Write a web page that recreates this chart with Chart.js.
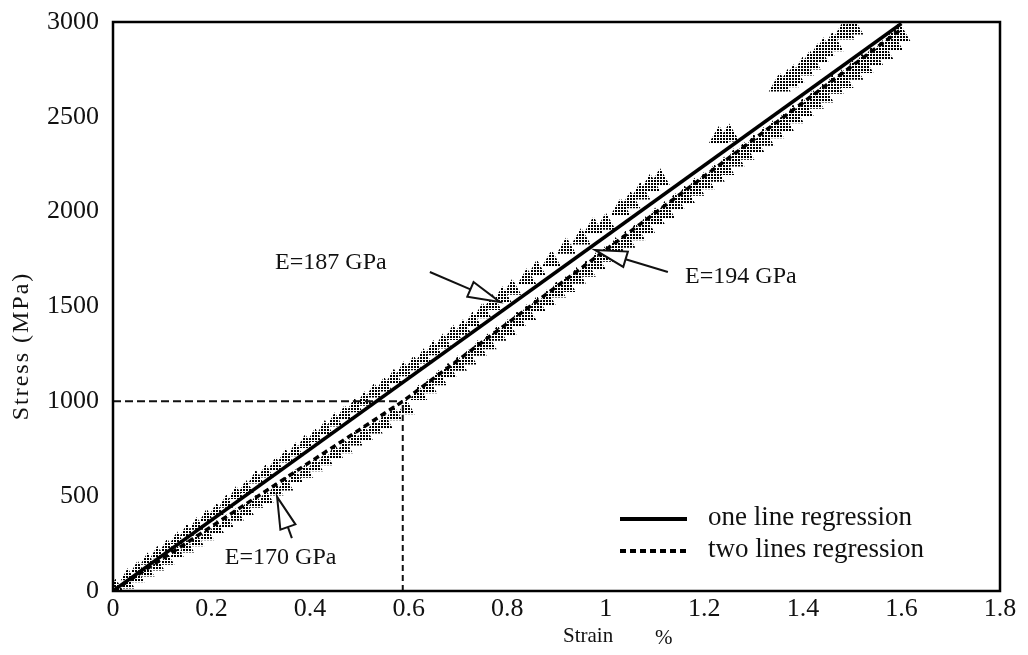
<!DOCTYPE html>
<html>
<head>
<meta charset="utf-8">
<script src="https://cdn.jsdelivr.net/npm/chart.js@4/dist/chart.umd.min.js"></script>
<style>
  html, body { margin: 0; padding: 0; background: #fff; }
  #wrap { width: 1028px; height: 655px; position: relative; }
</style>
</head>
<body>
<div id="wrap"><canvas id="stressChart"></canvas></div>
<script>
// measured points, strain in %, stress in MPa
// upper branch of the loading cycles
const upperStrain = [0.005, 0.03, 0.05, 0.07, 0.09, 0.11, 0.13, 0.15, 0.17, 0.19, 0.21, 0.23, 0.25, 0.27, 0.29, 0.31, 0.33, 0.35, 0.37, 0.39, 0.41, 0.43, 0.45, 0.47, 0.49, 0.51, 0.53, 0.55, 0.57, 0.59, 0.61, 0.63, 0.65, 0.67, 0.69, 0.71, 0.73, 0.75, 0.77, 0.79, 0.81, 0.84, 0.86, 0.89, 0.92, 0.95, 0.975, 1.0, 1.03, 1.05, 1.07, 1.09, 1.11, 1.23, 1.25, 1.353, 1.37, 1.381, 1.40, 1.414, 1.43, 1.442, 1.46, 1.483, 1.50];
const upperStress = [22, 78, 118, 160, 195, 232, 270, 310, 345, 388, 420, 462, 508, 540, 590, 622, 660, 702, 735, 778, 810, 852, 892, 930, 968, 1002, 1046, 1078, 1120, 1158, 1190, 1226, 1270, 1306, 1350, 1378, 1420, 1466, 1510, 1550, 1590, 1646, 1690, 1740, 1808, 1856, 1915, 1935, 2012, 2048, 2095, 2140, 2168, 2390, 2402, 2667, 2690, 2710, 2752, 2783, 2820, 2852, 2880, 2942, 2968];

// lower branch of the loading cycles
const lowerStrain = [0.01, 0.03, 0.05, 0.07, 0.09, 0.11, 0.13, 0.15, 0.17, 0.19, 0.21, 0.23, 0.25, 0.27, 0.29, 0.31, 0.33, 0.35, 0.37, 0.39, 0.41, 0.43, 0.45, 0.47, 0.49, 0.51, 0.53, 0.55, 0.57, 0.595, 0.62, 0.64, 0.66, 0.68, 0.70, 0.72, 0.74, 0.76, 0.78, 0.80, 0.82, 0.84, 0.86, 0.88, 0.90, 0.92, 0.94, 0.96, 0.98, 1.00, 1.02, 1.04, 1.06, 1.08, 1.10, 1.12, 1.14, 1.16, 1.18, 1.20, 1.22, 1.24, 1.26, 1.28, 1.30, 1.32, 1.34, 1.36, 1.38, 1.40, 1.42, 1.44, 1.46, 1.48, 1.50, 1.52, 1.54, 1.56, 1.58, 1.595];
const lowerStress = [4, 34, 68, 98, 130, 160, 196, 226, 258, 290, 328, 358, 394, 424, 462, 488, 528, 554, 594, 622, 656, 688, 726, 752, 792, 822, 856, 886, 926, 958, 1034, 1070, 1112, 1150, 1188, 1222, 1268, 1302, 1348, 1378, 1420, 1456, 1500, 1532, 1576, 1606, 1650, 1686, 1726, 1766, 1806, 1840, 1880, 1916, 1960, 1996, 2040, 2076, 2116, 2150, 2190, 2226, 2270, 2306, 2346, 2380, 2420, 2456, 2500, 2536, 2576, 2610, 2656, 2686, 2730, 2766, 2806, 2840, 2886, 2932];

// regression moduli (GPa) and breakpoints
const E_ONE = 187;
const E_FIRST = 170;
const E_SECOND = 194;
const KNEE_STRAIN = 0.588;
const END_STRAIN = 1.6;
const GUIDE_STRESS = 1000;

const xTicks = [0, 0.2, 0.4, 0.6, 0.8, 1, 1.2, 1.4, 1.6, 1.8];
const yTicks = [0, 500, 1000, 1500, 2000, 2500, 3000];

const legendLabels = ['one line regression', 'two lines regression'];

// arrow callouts: label anchor, arrow tail, arrow tip (strain, stress)
const callouts = [
  { text: 'E=187 GPa', label: [0.329, 1729], tail: [0.643, 1682], tip: [0.785, 1524] },
  { text: 'E=194 GPa', label: [1.161, 1655], tail: [1.126, 1682], tip: [0.978, 1798] },
  { text: 'E=170 GPa', label: [0.227, 174],  tail: [0.363, 279],  tip: [0.333, 496] }
];

const FONT = "'Liberation Serif', 'Times New Roman', serif";
const INK = '#111';

// stress (MPa) for modulus in GPa and strain in %
const stressAt = (E, strain) => E * 10 * strain;

const pts = (xs, ys) => xs.map((x, i) => ({ x: x, y: ys[i] }));

const kneeStress = stressAt(E_FIRST, KNEE_STRAIN);
const oneLine = [{ x: 0, y: 0 }, { x: END_STRAIN, y: stressAt(E_ONE, END_STRAIN) }];
const twoLines = [
  { x: 0, y: 0 },
  { x: KNEE_STRAIN, y: kneeStress },
  { x: END_STRAIN, y: kneeStress + stressAt(E_SECOND, END_STRAIN - KNEE_STRAIN) }
];
const guideH = [{ x: 0, y: GUIDE_STRESS }, { x: KNEE_STRAIN, y: GUIDE_STRESS }];
const guideV = [{ x: KNEE_STRAIN, y: 0 }, { x: KNEE_STRAIN, y: GUIDE_STRESS }];

// dotted halftone fill for the markers: dark 2x2 dots on a 3px grid
function halftone() {
  const c = document.createElement('canvas');
  c.width = 3; c.height = 3;
  const g = c.getContext('2d');
  g.fillStyle = '#fff';
  g.fillRect(0, 0, 3, 3);
  g.fillStyle = '#000';
  g.fillRect(0, 0, 2, 2);
  return g.createPattern(c, 'repeat');
}
const dots = halftone();

// markers grow a little along the curve
const markerSize = ctx => {
  const p = ctx.raw;
  return p ? 8 + 3.4 * p.x : 8;
};

function arrow(ctx, tx, ty, hx, hy, headLen, headW) {
  const ang = Math.atan2(hy - ty, hx - tx);
  const bx = hx - Math.cos(ang) * headLen, by = hy - Math.sin(ang) * headLen;
  ctx.beginPath();
  ctx.moveTo(tx, ty);
  ctx.lineTo(bx, by);
  ctx.stroke();
  ctx.beginPath();
  ctx.moveTo(hx, hy);
  ctx.lineTo(bx - Math.sin(ang) * headW, by + Math.cos(ang) * headW);
  ctx.lineTo(bx + Math.sin(ang) * headW, by - Math.cos(ang) * headW);
  ctx.closePath();
  ctx.fillStyle = '#fff';
  ctx.fill();
  ctx.stroke();
}

const framePlugin = {
  id: 'frame',
  afterDatasetsDraw(chart) {
    const { ctx, chartArea: a, scales } = chart;
    const X = v => scales.x.getPixelForValue(v);
    const Y = v => scales.y.getPixelForValue(v);

    ctx.save();
    // box round the plot
    ctx.strokeStyle = '#000';
    ctx.lineWidth = 2.5;
    ctx.strokeRect(a.left, a.top, a.right - a.left, a.bottom - a.top);

    // callouts
    ctx.textBaseline = 'middle';
    ctx.textAlign = 'left';
    ctx.strokeStyle = INK;
    ctx.lineWidth = 2;
    callouts.forEach(c => {
      ctx.font = '24px ' + FONT;
      ctx.fillStyle = INK;
      ctx.fillText(c.text, X(c.label[0]), Y(c.label[1]));
      arrow(ctx, X(c.tail[0]), Y(c.tail[1]), X(c.tip[0]), Y(c.tip[1]), 32, 8);
    });

    // legend in the lower right corner
    const lx = 620, ly = 519, gap = 32;
    [chart.data.datasets[0], chart.data.datasets[1]].forEach((ds, i) => {
      const y = ly + i * gap;
      ctx.strokeStyle = '#000';
      ctx.lineWidth = 4;
      ctx.setLineDash(ds.borderDash || []);
      ctx.beginPath();
      ctx.moveTo(lx, y);
      ctx.lineTo(lx + 67, y);
      ctx.stroke();
      ctx.setLineDash([]);
      ctx.font = '27px ' + FONT;
      ctx.fillStyle = INK;
      ctx.fillText(legendLabels[i], lx + 88, y - 1);
    });

    // axis titles
    ctx.fillStyle = INK;
    ctx.font = '21px ' + FONT;
    ctx.textAlign = 'left';
    ctx.fillText('Strain', 563, 636);
    ctx.fillText('%', 655, 638);

    ctx.translate(22, 346);
    ctx.rotate(-Math.PI / 2);
    ctx.textAlign = 'center';
    ctx.font = '24px ' + FONT;
    ctx.letterSpacing = '2px';
    ctx.fillText('Stress (MPa)', 0, 0);
    ctx.restore();
  }
};

new Chart(document.getElementById('stressChart'), {
  type: 'scatter',
  data: {
    datasets: [
      {
        label: legendLabels[0],
        type: 'line',
        data: oneLine,
        borderColor: '#000',
        borderWidth: 3.5,
        pointRadius: 0,
        fill: false
      },
      {
        label: legendLabels[1],
        type: 'line',
        data: twoLines,
        borderColor: '#000',
        borderWidth: 3.5,
        borderDash: [6, 4],
        pointRadius: 0,
        fill: false
      },
      {
        type: 'line',
        data: guideH,
        borderColor: INK,
        borderWidth: 2,
        borderDash: [8, 4],
        pointRadius: 0
      },
      {
        type: 'line',
        data: guideV,
        borderColor: INK,
        borderWidth: 2,
        borderDash: [6, 4],
        pointRadius: 0
      },
      {
        data: pts(upperStrain, upperStress),
        pointStyle: 'triangle',
        pointRadius: markerSize,
        backgroundColor: dots,
        borderWidth: 0
      },
      {
        data: pts(lowerStrain, lowerStress),
        pointStyle: 'triangle',
        pointRadius: markerSize,
        backgroundColor: dots,
        borderWidth: 0
      }
    ]
  },
  options: {
    responsive: true,
    maintainAspectRatio: false,
    animation: false,
    layout: { padding: { left: 8, right: 28, top: 22, bottom: 0 } },
    plugins: {
      legend: { display: false },
      tooltip: { enabled: false }
    },
    scales: {
      x: {
        type: 'linear',
        min: 0,
        max: 1.8,
        afterBuildTicks: s => { s.ticks = xTicks.map(v => ({ value: v })); },
        afterFit: s => { s.height = 64; },
        ticks: {
          color: INK,
          font: { family: FONT, size: 26 },
          padding: -3,
          callback: v => String(+v.toFixed(1))
        },
        grid: { display: false, drawTicks: true, tickLength: 6, color: '#000' },
        border: { display: false }
      },
      y: {
        type: 'linear',
        min: 0,
        max: 3000,
        afterBuildTicks: s => { s.ticks = yTicks.map(v => ({ value: v })); },
        afterFit: s => { s.width = 105; },
        ticks: {
          color: INK,
          font: { family: FONT, size: 26 },
          padding: 6,
          callback: v => String(v)
        },
        grid: { display: false, drawTicks: true, tickLength: 8, color: '#000' },
        border: { display: false }
      }
    }
  },
  plugins: [framePlugin]
});
</script>
</body>
</html>
